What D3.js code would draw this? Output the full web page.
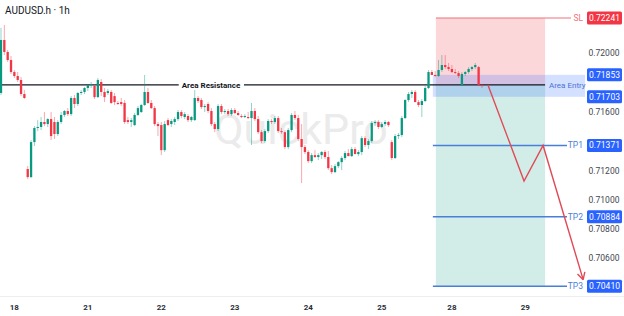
<!DOCTYPE html>
<html>
<head>
<meta charset="utf-8">
<script src="https://cdn.jsdelivr.net/npm/d3@7"></script>
<style>
body { margin: 0; background: #fff; }
svg { display: block; font-family: Roboto, "Noto Sans", sans-serif; }
</style>
</head>
<body>
<div id="chart"></div>
<script>
// hourly candles [open, high, low, close]
var candles = [
  [.71729,.72173,.71715,.72091],[.72091,.72193,.71988,.72009],[.72009,.72023,.71941,.71954],[.71954,.71982,.71859,.71872],
  [.71872,.71886,.71831,.71845],[.71845,.71872,.71804,.71818],[.71818,.71838,.71708,.71722],[.71722,.71749,.71688,.71695],
  [.71210,.71230,.71141,.71155],[.71155,.71408,.71148,.71394],[.71394,.71503,.71367,.71490],[.71490,.71544,.71469,.71497],
  [.71497,.71565,.71476,.71531],[.71531,.71599,.71503,.71517],[.71517,.71558,.71497,.71551],[.71551,.71599,.71408,.71435],
  [.71531,.71565,.71415,.71449],[.71449,.71544,.71435,.71531],[.71531,.71599,.71517,.71579],[.71579,.71613,.71565,.71606],
  [.71606,.71626,.71572,.71585],[.71585,.71708,.71572,.71695],[.71695,.71715,.71626,.71654],[.71654,.71736,.71640,.71729],
  [.71729,.71749,.71715,.71736],[.71736,.71770,.71722,.71763],[.71763,.71790,.71742,.71783],[.71783,.71804,.71763,.71790],
  [.71777,.71790,.71688,.71701],[.71701,.71831,.71695,.71818],[.71804,.71824,.71708,.71736],[.71736,.71763,.71667,.71701],
  [.71729,.71756,.71715,.71742],[.71736,.71749,.71654,.71661],[.71708,.71729,.71647,.71667],[.71661,.71674,.71647,.71654],
  [.71667,.71695,.71640,.71654],[.71661,.71681,.71517,.71531],[.71544,.71565,.71517,.71531],[.71531,.71558,.71497,.71544],
  [.71510,.71592,.71503,.71579],[.71579,.71640,.71572,.71626],[.71599,.71654,.71592,.71647],[.71647,.71852,.71640,.71736],
  [.71736,.71763,.71654,.71661],[.71661,.71681,.71620,.71626],[.71626,.71640,.71503,.71517],[.71517,.71531,.71435,.71503],
  [.71510,.71531,.71305,.71339],[.71339,.71538,.71326,.71517],[.71544,.71558,.71503,.71510],[.71517,.71551,.71497,.71538],
  [.71531,.71565,.71510,.71551],[.71551,.71613,.71538,.71599],[.71599,.71613,.71558,.71572],[.71565,.71599,.71551,.71585],
  [.71572,.71585,.71531,.71544],[.71544,.71572,.71531,.71565],[.71544,.71749,.71538,.71695],[.71695,.71708,.71661,.71674],
  [.71681,.71695,.71620,.71633],[.71633,.71654,.71599,.71640],[.71654,.71667,.71592,.71606],[.71606,.71626,.71503,.71517],
  [.71517,.71531,.71462,.71483],[.71483,.71654,.71469,.71640],[.71640,.71654,.71585,.71599],[.71599,.71620,.71585,.71606],
  [.71606,.71620,.71572,.71585],[.71585,.71626,.71572,.71613],[.71613,.71626,.71585,.71592],[.71592,.71606,.71572,.71579],
  [.71572,.71585,.71558,.71565],[.71565,.71585,.71558,.71572],[.71565,.71599,.71551,.71558],[.71558,.71661,.71374,.71606],
  [.71606,.71626,.71538,.71551],[.71551,.71572,.71449,.71462],[.71462,.71476,.71387,.71401],[.71401,.71483,.71387,.71469],
  [.71469,.71551,.71456,.71538],[.71538,.71551,.71517,.71531],[.71531,.71572,.71517,.71558],[.71558,.71572,.71456,.71469],
  [.71469,.71490,.71449,.71462],[.71462,.71476,.71346,.71360],[.71360,.71490,.71346,.71476],[.71476,.71592,.71462,.71579],
  [.71579,.71606,.71544,.71558],[.71558,.71579,.71401,.71415],[.71415,.71517,.71114,.71360],[.71360,.71374,.71312,.71326],
  [.71326,.71339,.71251,.71264],[.71264,.71319,.71251,.71305],[.71305,.71339,.71285,.71292],[.71292,.71319,.71271,.71305],
  [.71305,.71333,.71278,.71326],[.71326,.71339,.71278,.71292],[.71292,.71333,.71203,.71216],[.71216,.71237,.71175,.71189],
  [.71189,.71244,.71182,.71230],[.71230,.71264,.71216,.71257],[.71257,.71298,.71203,.71285],[.71285,.71333,.71271,.71319],
  [.71319,.71346,.71298,.71298],[.71298,.71360,.71292,.71346],[.71346,.71360,.71312,.71312],[.71312,.71339,.71298,.71326],
  [.71326,.71435,.71305,.71421],[.71421,.71435,.71360,.71374],[.71374,.71415,.71346,.71401],[.71401,.71538,.71387,.71524],
  [.71524,.71544,.71503,.71531],[.71531,.71544,.71483,.71497],[.71497,.71531,.71490,.71517],[.71517,.71544,.71503,.71531],
  [.71531,.71538,.71497,.71510],[.71394,.71408,.71271,.71285],[.71285,.71449,.71278,.71435],[.71435,.71456,.71415,.71442],
  [.71442,.71572,.71428,.71558],[.71558,.71688,.71551,.71681],[.71681,.71736,.71667,.71722],[.71722,.71749,.71695,.71736],
  [.71736,.71749,.71667,.71667],[.71667,.71681,.71633,.71647],[.71647,.71688,.71565,.71674],[.71674,.71777,.71667,.71763],
  [.71763,.71886,.71756,.71872],[.71872,.71886,.71859,.71852],[.71852,.71879,.71838,.71845],[.71845,.71954,.71838,.71886],
  [.71886,.71988,.71872,.71920],[.71920,.71988,.71893,.71906],[.71906,.71934,.71879,.71893],[.71893,.71920,.71865,.71872],
  [.71872,.71893,.71859,.71865],[.71865,.71879,.71831,.71845],[.71783,.71872,.71777,.71859],[.71859,.71879,.71845,.71872],
  [.71872,.71906,.71859,.71893],[.71893,.71913,.71879,.71906],[.71906,.71934,.71893,.71920],[.71906,.71913,.71777,.71783],
  [.71783,.71790,.71763,.71777]
];

var dayLabels = ["18", "21", "22", "23", "24", "25", "28", "29"];
var dayIndex = [4, 26, 48, 70, 92, 114, 135, 157];

var resistance = 0.71784;
var stopLoss = 0.72241;
var entryTop = 0.71853, entryBottom = 0.71703;
var targets = [0.71371, 0.70884, 0.70410];
var targetNames = ["TP1", "TP2", "TP3"];
// projected move: [bar index, price]
var projection = [[145.8, 0.71784], [156.6, 0.71128], [162.3, 0.71371], [174.3, 0.70455]];

var W = 624, H = 316;
var upCol = "#089981", downCol = "#f23645", blue = "#2962ff";

var x = d3.scaleLinear().domain([0, 166]).range([1, 1 + 166 * 3.34]);
var y = d3.scaleLinear().domain([0.704, 0.722]).range([287.7, 24]);

var svg = d3.select("#chart").append("svg")
    .attr("width", W)
    .attr("height", H);

svg.append("clipPath").attr("id", "plot")
  .append("rect").attr("x", 0).attr("y", 0).attr("width", 555).attr("height", 296);

// watermark
svg.append("text")
    .attr("x", 214).attr("y", 144)
    .attr("font-size", 43)
    .attr("fill", "#ebebeb")
    .text("QuickPro");

// time axis separator
svg.append("line")
    .attr("x1", 0).attr("x2", W).attr("y1", 296.5).attr("y2", 296.5)
    .attr("stroke", "#eceef2");

// risk / reward zones
svg.append("rect")
    .attr("x", x(130.2)).attr("width", x(162.9) - x(130.2))
    .attr("y", y(stopLoss)).attr("height", y(resistance) - y(stopLoss))
    .attr("fill", "rgba(242,54,69,0.2)");
svg.append("rect")
    .attr("x", x(130.2)).attr("width", x(162.9) - x(130.2))
    .attr("y", y(resistance)).attr("height", y(targets[2]) - y(resistance))
    .attr("fill", "rgba(8,153,129,0.18)");

// entry area
svg.append("rect")
    .attr("x", x(129.3)).attr("width", 585 - x(129.3))
    .attr("y", y(entryTop)).attr("height", y(entryBottom) - y(entryTop))
    .attr("fill", "rgba(41,98,255,0.2)");

// resistance line
svg.append("line")
    .attr("x1", 0).attr("x2", x(162.9))
    .attr("y1", y(resistance)).attr("y2", y(resistance))
    .attr("stroke", "#131722").attr("stroke-width", 1.3);

var resLabel = svg.append("text")
    .attr("x", 211).attr("y", y(resistance) + 3)
    .attr("text-anchor", "middle")
    .attr("font-size", 8).attr("font-weight", "bold")
    .attr("fill", "#131722")
    .text("Area Resistance");
var bb = resLabel.node().getBBox();
svg.insert("rect", function() { return resLabel.node(); })
    .attr("x", bb.x - 3).attr("y", bb.y).attr("width", bb.width + 6).attr("height", bb.height)
    .attr("fill", "#fff");

svg.append("text")
    .attr("x", 549).attr("y", y(resistance) + 3)
    .attr("font-size", 8)
    .attr("fill", "#4a72d8")
    .text("Area Entry");

// candles
var cg = svg.append("g").attr("clip-path", "url(#plot)");
var bw = 2.3;

cg.selectAll("line.wick")
    .data(candles)
    .enter()
    .append("line")
    .attr("class", "wick")
    .attr("x1", function(d, i) { return x(i); })
    .attr("x2", function(d, i) { return x(i); })
    .attr("y1", function(d) { return y(d[1]); })
    .attr("y2", function(d) { return y(d[2]); })
    .attr("stroke", function(d) { return d[3] >= d[0] ? upCol : downCol; })
    .attr("stroke-opacity", 0.55)
    .attr("stroke-width", 0.8);

cg.selectAll("rect.body")
    .data(candles)
    .enter()
    .append("rect")
    .attr("class", "body")
    .attr("x", function(d, i) { return x(i) - bw / 2; })
    .attr("width", bw)
    .attr("y", function(d) { return y(Math.max(d[0], d[3])); })
    .attr("height", function(d) { return Math.max(1, Math.abs(y(d[0]) - y(d[3]))); })
    .attr("fill", function(d) { return d[3] >= d[0] ? upCol : downCol; });

// stop loss line and label
svg.append("line")
    .attr("x1", x(130.2)).attr("x2", 571)
    .attr("y1", y(stopLoss)).attr("y2", y(stopLoss))
    .attr("stroke", "#f0737c").attr("stroke-width", 1.2);
svg.append("text")
    .attr("x", 583).attr("y", y(stopLoss) + 3)
    .attr("text-anchor", "end")
    .attr("font-size", 8.5).attr("fill", "#f0737c")
    .text("SL");

// target lines
targets.forEach(function(t, i) {
    svg.append("line")
        .attr("x1", x(129.3)).attr("x2", 567)
        .attr("y1", y(t)).attr("y2", y(t))
        .attr("stroke", "#4a7fd9").attr("stroke-width", 1.5);
    svg.append("text")
        .attr("x", 583).attr("y", y(t) + 3)
        .attr("text-anchor", "end")
        .attr("font-size", 8.5).attr("fill", "#4a7fd9")
        .text(targetNames[i]);
});

// projected path with arrow
var pts = projection.map(function(p) { return [x(p[0]), y(p[1])]; });
svg.append("path")
    .attr("d", d3.line()(pts))
    .attr("fill", "none")
    .attr("stroke", "#e04a57").attr("stroke-width", 1.4);
var a = pts[pts.length - 2], b = pts[pts.length - 1];
var ang = Math.atan2(b[1] - a[1], b[0] - a[0]);
[-0.5, 0.5].forEach(function(off) {
    svg.append("line")
        .attr("x1", b[0]).attr("y1", b[1])
        .attr("x2", b[0] - 8 * Math.cos(ang + off))
        .attr("y2", b[1] - 8 * Math.sin(ang + off))
        .attr("stroke", "#e04a57").attr("stroke-width", 1.4);
});

// price axis (labels under the price boxes are left out)
var fmt = d3.format(".5f");
var boxPrices = [stopLoss, entryTop, entryBottom].concat(targets);
var freeTicks = y.ticks(10).filter(function(t) {
    return boxPrices.every(function(p) { return Math.abs(y(p) - y(t)) > 11; });
});
svg.selectAll("text.tick")
    .data(freeTicks)
    .enter()
    .append("text")
    .attr("class", "tick")
    .attr("x", 604).attr("y", function(d) { return y(d) + 3; })
    .attr("text-anchor", "middle")
    .attr("font-size", 8.5).attr("fill", "#434651")
    .text(fmt);

// price label boxes
var boxes = [[stopLoss, downCol], [entryTop, blue], [entryBottom, blue]]
    .concat(targets.map(function(t) { return [t, blue]; }));
boxes.forEach(function(bx) {
    svg.append("rect")
        .attr("x", 587).attr("y", y(bx[0]) - 6.5)
        .attr("width", 35).attr("height", 13).attr("rx", 1.5)
        .attr("fill", bx[1]);
    svg.append("text")
        .attr("x", 604.5).attr("y", y(bx[0]) + 3)
        .attr("text-anchor", "middle")
        .attr("font-size", 8.5).attr("fill", "#fff")
        .text(fmt(bx[0]));
});

// time axis
svg.selectAll("text.day")
    .data(dayLabels)
    .enter()
    .append("text")
    .attr("class", "day")
    .attr("x", function(d, i) { return x(dayIndex[i]); })
    .attr("y", 310)
    .attr("text-anchor", "middle")
    .attr("font-size", 8).attr("font-weight", "bold")
    .attr("fill", "#2a2e39")
    .text(function(d) { return d; });

// title
svg.append("text")
    .attr("x", 5).attr("y", 14)
    .attr("font-size", 10).attr("fill", "#131722")
    .text("AUDUSD.h · 1h");
</script>
</body>
</html>
